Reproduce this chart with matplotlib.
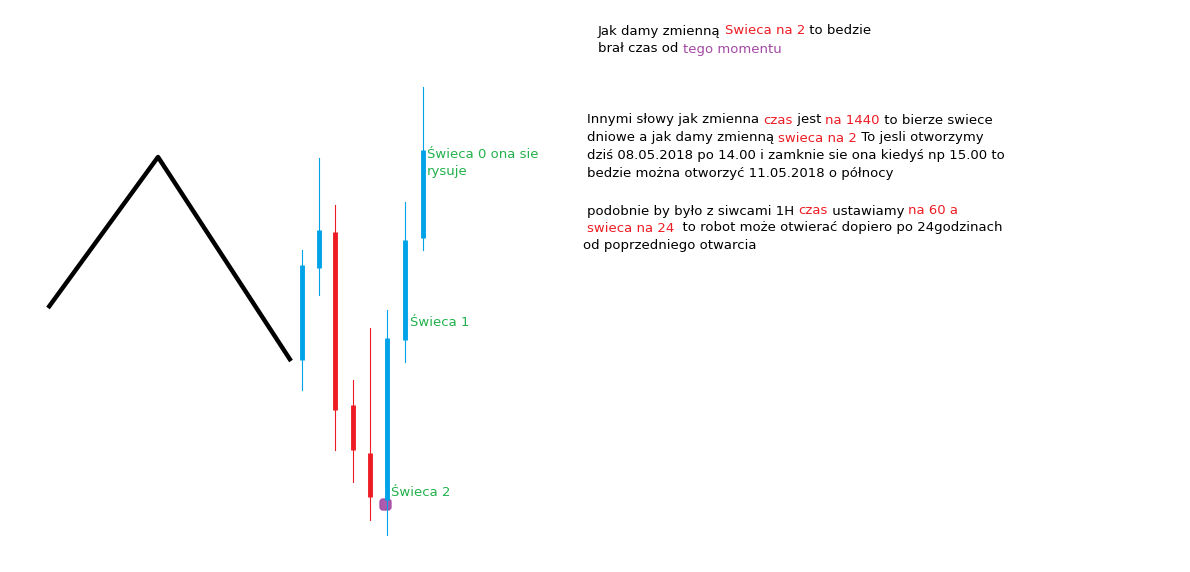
import matplotlib.pyplot as plt
from matplotlib.patches import FancyBboxPatch

BLUE = "#00a2e8"
RED = "#ed1c24"
GREEN = "#22b14c"
PURPLE = "#a349a4"

# świece w pikselach obrazka: x, góra korpusu, dół korpusu, knot góra, knot dół, kolor
candle_x = [302, 319, 335, 353, 370, 387, 405, 423]
body_top = [265, 230, 232, 405, 453, 338, 240, 150]
body_bot = [360, 268, 410, 450, 497, 500, 340, 238]
wick_top = [250, 158, 205, 380, 328, 310, 202, 87]
wick_bot = [390, 295, 450, 482, 520, 535, 362, 250]
candle_col = [BLUE, BLUE, RED, RED, RED, BLUE, BLUE, BLUE]

# czarny zygzak
zig_x = [48, 158, 291]
zig_y = [308, 157, 361]

# teksty: (x, y, [(fragment, kolor), ...])
lines = [
    (598, 31, [("Jak damy zmienną ", "black"), ("Swieca na 2", RED), (" to bedzie", "black")]),
    (598, 49, [("brał czas od ", "black"), ("tego momentu", PURPLE)]),
    (587, 120, [("Innymi słowy jak zmienna ", "black"), ("czas", RED), (" jest ", "black"),
                ("na 1440", RED), (" to bierze swiece", "black")]),
    (587, 138, [("dniowe a jak damy zmienną ", "black"), ("swieca na 2", RED), (" To jesli otworzymy", "black")]),
    (587, 156, [("dziś 08.05.2018 po 14.00 i zamknie sie ona kiedyś np 15.00 to", "black")]),
    (587, 174, [("bedzie można otworzyć 11.05.2018 o północy", "black")]),
    (587, 211, [("podobnie by było z siwcami 1H ", "black"), ("czas", RED), (" ustawiamy ", "black"),
                ("na 60 a", RED)]),
    (587, 228, [("swieca na 24", RED), ("  to robot może otwierać dopiero po 24godzinach", "black")]),
    (583, 245, [("od poprzedniego otwarcia", "black")]),
    (427, 154, [("Świeca 0 ona sie", GREEN)]),
    (427, 171, [("rysuje", GREEN)]),
    (410, 322, [("Świeca 1", GREEN)]),
    (391, 493, [("Świeca 2", GREEN)]),
]

fig = plt.figure(figsize=(11.9, 5.72), dpi=100)
ax = fig.add_axes([0, 0, 1, 1])
ax.set_xlim(0, 1190)
ax.set_ylim(572, 0)
ax.axis("off")

ax.plot(zig_x, zig_y, color="black", linewidth=3.2, solid_capstyle="butt")

for x, bt, bb, wt, wb, c in zip(candle_x, body_top, body_bot, wick_top, wick_bot, candle_col):
    ax.plot([x, x], [wt, wb], color=c, linewidth=0.8)
    ax.plot([x, x], [bt, bb], color=c, linewidth=3.5, solid_capstyle="butt")

ax.add_patch(FancyBboxPatch((380, 499), 11, 11, boxstyle="round,pad=0,rounding_size=3",
                            color=PURPLE, alpha=0.9))

fig.canvas.draw()
renderer = fig.canvas.get_renderer()
inv = ax.transData.inverted()
for x, y, parts in lines:
    cx = x
    for s, c in parts:
        t = ax.text(cx, y, s, color=c, fontsize=9.5, family="DejaVu Sans", va="center", ha="left")
        bb = t.get_window_extent(renderer)
        cx = inv.transform((bb.x1, bb.y0))[0]

fig.savefig("out.png", dpi=100)
